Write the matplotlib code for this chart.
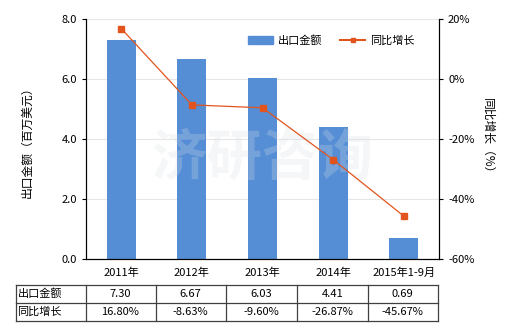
import numpy as np
import matplotlib
matplotlib.use("Agg")
import matplotlib.pyplot as plt
from matplotlib.lines import Line2D
from matplotlib.patches import Patch

plt.rcParams['font.family'] = ['Noto Sans CJK SC', 'DejaVu Sans']

categories = ["2011年", "2012年", "2013年", "2014年", "2015年1-9月"]
export_value = [7.30, 6.67, 6.03, 4.41, 0.69]
yoy_growth = [16.80, -8.63, -9.60, -26.87, -45.67]
row_labels = ["出口金额", "同比增长"]

bar_color = "#558ED5"
line_color = "#E2541E"

W, H = 520, 330
fig = plt.figure(figsize=(W / 100, H / 100), dpi=100)
ax = fig.add_axes([86 / W, 1 - 259 / H, (439 - 86) / W, (259 - 19) / H])
x = np.arange(len(categories))

ax.bar(x, export_value, width=0.41, color=bar_color, zorder=2)
ax.set_xlim(-0.5, len(categories) - 0.5)
ax.set_ylim(0, 8)
ax.set_yticks(np.arange(0, 8.1, 2))
ax.set_yticklabels([f"{v:.1f}" for v in np.arange(0, 8.1, 2)])
ax.set_xticks(x)
ax.set_xticklabels(categories)
ax.tick_params(axis="x", length=0, labelsize=8, pad=6)
ax.tick_params(axis="y", labelsize=8, length=3)
ax.grid(axis="y", color="#e6e6e6", linewidth=0.8, zorder=0)
ax.spines["top"].set_visible(False)
ax.set_ylabel("出口金额（百万美元）", fontsize=8.5, labelpad=20)

ax2 = ax.twinx()
ax2.plot(x, yoy_growth, color=line_color, linewidth=0.9, marker="s",
         markersize=4, zorder=3)
ax2.set_ylim(-60, 20)
ax2.set_yticks(np.arange(-60, 21, 20))
ax2.set_yticklabels([f"{v}%" for v in np.arange(-60, 21, 20)])
ax2.tick_params(axis="y", labelsize=8, length=3)
ax2.spines["top"].set_visible(False)
ax2.set_ylabel("同比增长（%）", fontsize=8.5, rotation=-90, labelpad=14)

# watermark
ax.text(0.5, 0.42, "济研咨询", transform=ax.transAxes, fontsize=40,
        color="#d8dee6", alpha=0.25, ha="center", va="center", zorder=4,
        fontweight="bold")

handles = [Patch(color=bar_color, label="出口金额"),
           Line2D([0], [0], color=line_color, marker="s", markersize=3,
                  linewidth=1.5, label="同比增长")]
ax2.legend(handles=handles, loc="upper right", bbox_to_anchor=(0.96, 0.975),
           ncol=2, frameon=False, fontsize=8, handlelength=2.2,
           handletextpad=0.5, columnspacing=1.6)

# table below the plot
tab = fig.add_axes([0, 0, 1, 1])
tab.set_xlim(0, W)
tab.set_ylim(H, 0)
tab.axis("off")
col_edges = [15.5, 85.5, 155.5, 226, 297, 367.5, 438]
row_edges = [285, 303, 321]
for yy in row_edges:
    tab.plot([col_edges[0], col_edges[-1]], [yy, yy], color="#404040", lw=0.9)
for xx in col_edges:
    tab.plot([xx, xx], [row_edges[0], row_edges[-1]], color="#404040", lw=0.9)
rows = [[f"{v:.2f}" for v in export_value], [f"{v:.2f}%" for v in yoy_growth]]
for r in range(2):
    yc = (row_edges[r] + row_edges[r + 1]) / 2
    tab.text(col_edges[0] + 2, yc, row_labels[r], fontsize=8, va="center", ha="left")
    for c in range(len(categories)):
        xc = (col_edges[c + 1] + col_edges[c + 2]) / 2
        tab.text(xc, yc, rows[r][c], fontsize=8, va="center", ha="center")

fig.savefig("out.png", dpi=100)
